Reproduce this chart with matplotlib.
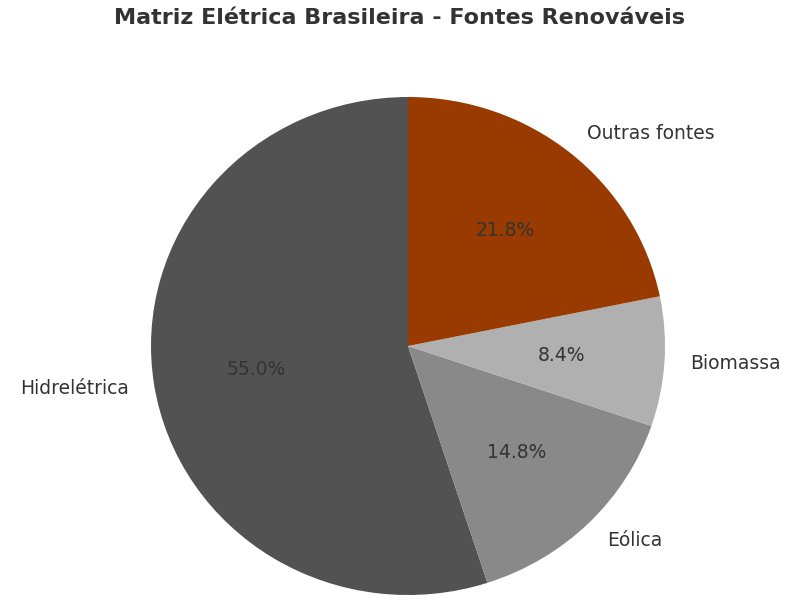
import matplotlib
matplotlib.use('Agg')
import matplotlib.pyplot as plt

# Data
sources = ['Hidrelétrica', 'Eólica', 'Biomassa', 'Outras fontes']
shares = [55.0, 14.8, 8.4, 21.8]
slice_colors = ['#525252', '#898989', '#b0b0b0', '#993a00']

fig = plt.figure(figsize=(8, 6), dpi=100)
# pie centre ~ (408, 346) px, slightly squashed: rx ~ 257, ry ~ 249 px
lim = 1.1
w = 2 * lim * 257
h = 2 * lim * 249
ax = fig.add_axes([(408 - w / 2) / 800, (254 - h / 2) / 600,
                   w / 800, h / 600])

wedges, texts, autotexts = ax.pie(
    shares, labels=sources, colors=slice_colors, startangle=90,
    autopct='%1.1f%%', pctdistance=0.6, labeldistance=1.1,
    textprops={'color': '#333333', 'fontsize': 13.5})
ax.set_xlim(-lim, lim)
ax.set_ylim(-lim, lim)
ax.set_aspect('auto')

fig.suptitle('Matriz Elétrica Brasileira - Fontes Renováveis',
             fontsize=16, fontweight='bold', color='#333333',
             y=1 - 18 / 600, va='center')

fig.savefig('out.png', dpi=100)
